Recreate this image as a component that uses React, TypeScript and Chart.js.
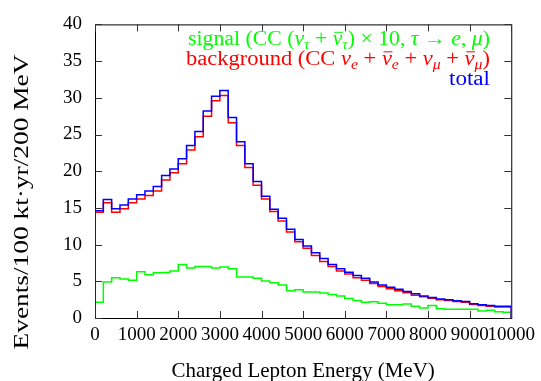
import React, { useEffect, useRef } from 'react';
import { Chart, registerables } from 'chart.js';

Chart.register(...registerables);

// Lower edges of the 200 MeV bins
const binStarts = [
  0, 200, 400, 600, 800, 1000, 1200, 1400, 1600, 1800,
  2000, 2200, 2400, 2600, 2800, 3000, 3200, 3400, 3600, 3800,
  4000, 4200, 4400, 4600, 4800, 5000, 5200, 5400, 5600, 5800,
  6000, 6200, 6400, 6600, 6800, 7000, 7200, 7400, 7600, 7800,
  8000, 8200, 8400, 8600, 8800, 9000, 9200, 9400, 9600, 9800,
];
const xEnd = 10000;
const xTickValues = [0, 1000, 2000, 3000, 4000, 5000, 6000, 7000, 8000, 9000, 10000];
const yTickValues = [0, 5, 10, 15, 20, 25, 30, 35, 40];

// signal (CC nu_tau) x 10
const signalX10 = [
  2.15, 4.9, 5.5, 5.3, 5.15, 6.3, 5.9, 6.15, 6.2, 6.4,
  7.3, 6.8, 7.0, 7.0, 6.8, 6.95, 6.7, 5.6, 5.6, 5.4,
  5.05, 4.8, 4.5, 3.7, 3.85, 3.55, 3.55, 3.4, 3.2, 3.0,
  2.65, 2.4, 2.15, 2.2, 2.0, 1.8, 1.8, 1.9, 1.6, 1.35,
  1.7, 1.25, 1.2, 1.2, 1.2, 1.2, 0.95, 1.05, 0.85, 0.8,
];
// background (CC nu_e + nu_mu)
const background = [
  14.4, 15.7, 14.4, 14.9, 15.7, 16.2, 16.7, 17.3, 18.8, 19.8,
  21.0, 22.9, 24.7, 27.5, 29.6, 30.3, 26.6, 23.5, 20.5, 18.1,
  16.2, 14.5, 13.2, 11.7, 10.4, 9.5, 8.5, 7.7, 7.0, 6.4,
  6.0, 5.5, 5.15, 4.7, 4.3, 4.0, 3.7, 3.45, 3.1, 2.9,
  2.7, 2.5, 2.4, 2.25, 2.15, 1.85, 1.7, 1.6, 1.5, 1.5,
];
// total
const total = [
  14.6, 16.15, 14.9, 15.4, 16.2, 16.8, 17.3, 17.9, 19.4, 20.3,
  21.7, 23.5, 25.4, 28.2, 30.2, 31.0, 27.3, 24.0, 21.0, 18.6,
  16.6, 14.8, 13.6, 12.1, 10.7, 9.8, 8.9, 8.1, 7.3, 6.7,
  6.25, 5.8, 5.4, 4.9, 4.5, 4.2, 3.9, 3.6, 3.3, 3.0,
  2.8, 2.6, 2.5, 2.35, 2.25, 1.95, 1.8, 1.7, 1.6, 1.6,
];

const FONT = '"Liberation Serif", "Times New Roman", serif';
const xTitle = 'Charged Lepton Energy (MeV)';
const yTitle = 'Events/100 kt\u00b7yr/200 MeV';

type Run = { t: string; it?: boolean; sub?: boolean; bar?: boolean };
const legendSignal: Run[] = [
  { t: 'signal (CC (' }, { t: '\u03bd', it: true }, { t: '\u03c4', it: true, sub: true },
  { t: ' + ' }, { t: '\u03bd', it: true, bar: true }, { t: '\u03c4', it: true, sub: true },
  { t: ') \u00d7 10, ' }, { t: '\u03c4', it: true }, { t: ' \u2192 ' }, { t: 'e', it: true },
  { t: ', ' }, { t: '\u03bc', it: true }, { t: ')' },
];
const legendBackground: Run[] = [
  { t: 'background (CC ' }, { t: '\u03bd', it: true }, { t: 'e', it: true, sub: true },
  { t: ' + ' }, { t: '\u03bd', it: true, bar: true }, { t: 'e', it: true, sub: true },
  { t: ' + ' }, { t: '\u03bd', it: true }, { t: '\u03bc', it: true, sub: true },
  { t: ' + ' }, { t: '\u03bd', it: true, bar: true }, { t: '\u03bc', it: true, sub: true },
  { t: ')' },
];
const legendTotal: Run[] = [{ t: 'total' }];

function stepPoints(vals: number[]) {
  const pts = [{ x: binStarts[0], y: 0 }];
  binStarts.forEach((x, i) => pts.push({ x, y: vals[i] }));
  pts.push({ x: xEnd, y: vals[vals.length - 1] });
  pts.push({ x: xEnd, y: 0 });
  return pts;
}

function drawRich(ctx: CanvasRenderingContext2D, runs: Run[], rightX: number, baseline: number,
  color: string, size: number, targetW: number) {
  const fontFor = (r: Run) => `${r.it ? 'italic ' : ''}${r.sub ? Math.round(size * 0.72) : size}px ${FONT}`;
  let w = 0;
  const widths: number[] = [];
  runs.forEach((r) => {
    ctx.font = fontFor(r);
    const rw = ctx.measureText(r.t).width;
    widths.push(rw);
    w += rw;
  });
  const k = targetW / w;
  ctx.save();
  ctx.translate(rightX - targetW, baseline);
  ctx.scale(k, 1);
  ctx.fillStyle = color;
  ctx.textAlign = 'left';
  ctx.textBaseline = 'alphabetic';
  let x = 0;
  runs.forEach((r, i) => {
    ctx.font = fontFor(r);
    ctx.fillText(r.t, x, r.sub ? size * 0.22 : 0);
    if (r.bar) ctx.fillRect(x + 1.5, -size * 0.66, widths[i] - 1, 1);
    x += widths[i];
  });
  ctx.restore();
}

const framePlugin = {
  id: 'frameTicks',
  beforeDatasetsDraw(chart: any) {
    const { ctx, chartArea: a, scales } = chart;
    ctx.save();
    ctx.strokeStyle = '#000';
    ctx.lineWidth = 1;
    ctx.strokeRect(a.left + 0.5, a.top + 0.5, a.right - a.left, a.bottom - a.top);
    ctx.strokeStyle = '#333';
    const len = 7;
    ctx.beginPath();
    yTickValues.forEach((v) => {
      const py = Math.round(scales.y.getPixelForValue(v)) + 0.5;
      ctx.moveTo(a.left, py); ctx.lineTo(a.left + len, py);
      ctx.moveTo(a.right, py); ctx.lineTo(a.right - len, py);
    });
    xTickValues.forEach((v) => {
      const px = Math.round(scales.x.getPixelForValue(v)) + 0.5;
      ctx.moveTo(px, a.bottom); ctx.lineTo(px, a.bottom - len);
      ctx.moveTo(px, a.top); ctx.lineTo(px, a.top + len);
    });
    ctx.stroke();
    ctx.restore();
  },
  afterDraw(chart: any) {
    const { ctx, chartArea: a } = chart;
    ctx.save();
    // x title
    ctx.fillStyle = '#000';
    ctx.font = `21px ${FONT}`;
    ctx.textAlign = 'center';
    ctx.textBaseline = 'alphabetic';
    ctx.fillText(xTitle, (a.left + a.right) / 2, 377);
    // y title
    ctx.save();
    ctx.font = `22px ${FONT}`;
    const w = ctx.measureText(yTitle).width;
    ctx.translate(28, 202);
    ctx.rotate(-Math.PI / 2);
    ctx.scale(295 / w, 1);
    ctx.fillText(yTitle, 0, 0);
    ctx.restore();
    // legend (right aligned, gnuplot style key without samples)
    const right = 490;
    drawRich(ctx, legendSignal, right, 45, '#00ff00', 20, 302);
    drawRich(ctx, legendBackground, right, 64.5, '#ff0000', 20, 304);
    drawRich(ctx, legendTotal, right, 84.5, '#0000ff', 20, 41);
    ctx.restore();
  },
};

export default function App() {
  const ref = useRef<HTMLCanvasElement | null>(null);
  useEffect(() => {
    if (!ref.current) return;
    const common = {
      stepped: 'before' as const,
      fill: false,
      borderWidth: 1.5,
      pointRadius: 0,
      tension: 0,
    };
    const chart = new Chart(ref.current, {
      type: 'line',
      data: {
        datasets: [
          { ...common, label: 'total', data: stepPoints(total), borderColor: '#0000ff' },
          { ...common, label: 'background', data: stepPoints(background), borderColor: '#ff0000' },
          { ...common, label: 'signal', data: stepPoints(signalX10), borderColor: '#00ff00' },
        ],
      },
      options: {
        animation: false,
        responsive: false,
        maintainAspectRatio: false,
        layout: { padding: { left: 0, top: 16, right: 29, bottom: 0 } },
        plugins: {
          legend: { display: false },
          tooltip: { enabled: false },
          title: { display: false },
        },
        scales: {
          x: {
            type: 'linear',
            min: 0,
            max: xEnd,
            afterBuildTicks: (s: any) => { s.ticks = xTickValues.map((value) => ({ value })); },
            afterFit: (s: any) => { s.height = 63; },
            ticks: {
              autoSkip: false, maxRotation: 0, minRotation: 0, padding: 6, color: '#000',
              font: { family: FONT, size: 19 },
              callback: (v: any) => String(v),
            },
            grid: { display: false, drawTicks: false },
            border: { display: false },
          },
          y: {
            type: 'linear',
            min: 0,
            max: 40,
            afterBuildTicks: (s: any) => { s.ticks = yTickValues.map((value) => ({ value })); },
            afterFit: (s: any) => { s.width = 95; },
            ticks: {
              autoSkip: false, padding: 13, color: '#000',
              font: { family: FONT, size: 19 },
              callback: (v: any) => String(v),
            },
            grid: { display: false, drawTicks: false },
            border: { display: false },
          },
        },
      },
      plugins: [framePlugin],
    } as any);
    return () => chart.destroy();
  }, []);
  return (
    <div style={{ position: 'fixed', left: 0, top: 0, width: 541, height: 381, background: '#fff' }}>
      <canvas ref={ref} width={541} height={381} style={{ display: 'block', width: 541, height: 381 }} />
    </div>
  );
}
